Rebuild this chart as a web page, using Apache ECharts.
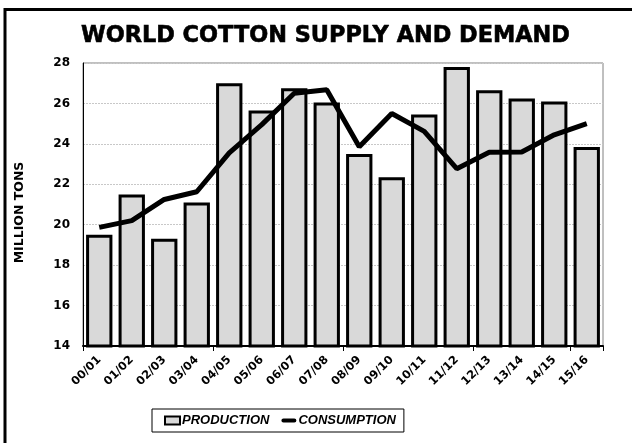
<!DOCTYPE html>
<html>
<head>
<meta charset="utf-8">
<script src="https://cdn.jsdelivr.net/npm/echarts@6/dist/echarts.min.js"></script>
<style>html,body{margin:0;padding:0;background:#fff;}#c{width:632px;height:443px;}</style>
</head>
<body>
<div id="c"></div>
<script>
const categories = ['00/01','01/02','02/03','03/04','04/05','05/06','06/07','07/08','08/09','09/10','10/11','11/12','12/13','13/14','14/15','15/16'];
const production = [19.5, 21.5, 19.3, 21.1, 27.0, 25.65, 26.75, 26.05, 23.5, 22.35, 25.45, 27.8, 26.65, 26.25, 26.1, 23.85];
const consumption = [19.87, 20.2, 21.25, 21.63, 23.55, 24.95, 26.5, 26.68, 23.86, 25.5, 24.62, 22.77, 23.58, 23.6, 24.45, 25.0];
const yTicks = [14, 16, 18, 20, 22, 24, 26, 28];

const chart = echarts.init(document.getElementById('c'), null, {renderer: 'canvas'});
const font = 'Liberation Sans, Arial, sans-serif';
const heavy = 'DejaVu Sans, sans-serif';
chart.setOption({
  animation: false,
  backgroundColor: '#fff',
  textStyle: {fontFamily: font},
  title: {
    text: 'WORLD COTTON SUPPLY AND DEMAND',
    left: 76, top: 20,
    textStyle: {fontFamily: heavy, fontSize: 22.4, fontWeight: 'bold', color: '#000', textBorderColor: '#000', textBorderWidth: 0.6}
  },
  graphic: [{
    type: 'rect', silent: true,
    shape: {x: 5, y: 9.5, width: 900, height: 900},
    style: {fill: 'none', stroke: '#000', lineWidth: 3}
  }],
  grid: {left: 83, right: 29, top: 63, bottom: 97, show: true, borderColor: '#808080', borderWidth: 1, backgroundColor: 'transparent'},
  legend: {
    left: 152, top: 409,
    width: 257, height: 24,
    padding: [5, 8, 5, 12],
    itemGap: 12,
    itemWidth: 15, itemHeight: 8,
    borderColor: '#000', borderWidth: 1,
    textStyle: {fontFamily: font, fontSize: 13, fontWeight: 'bold', fontStyle: 'italic', color: '#000', padding: [0,0,0,-3]},
    data: [
      {name: 'PRODUCTION', icon: 'rect'},
      {name: 'CONSUMPTION', icon: 'path://M0,0M17,8M2,1.5L15,1.5A2.5,2.5,0,0,1,15,6.5L2,6.5A2.5,2.5,0,0,1,2,1.5Z', itemStyle: {color: '#000', borderWidth: 0}}
    ]
  },
  xAxis: {
    type: 'category',
    data: categories,
    boundaryGap: true,
    axisLine: {lineStyle: {color: '#000', width: 2}},
    axisTick: {show: true, interval: 3, length: 5, lineStyle: {color: '#000', width: 1}},
    axisLabel: {rotate: 45, interval: 0, fontFamily: heavy, fontSize: 11.5, fontWeight: 'bold', color: '#000', margin: 12},
    splitLine: {show: false}
  },
  yAxis: {
    type: 'value',
    min: yTicks[0], max: yTicks[yTicks.length - 1], interval: 2,
    name: 'MILLION TONS',
    nameLocation: 'middle',
    nameGap: 57,
    nameTextStyle: {fontFamily: heavy, fontSize: 12.5, fontWeight: 'bold', color: '#000', padding: [0, 0, 0, -16]},
    axisLine: {show: true, lineStyle: {color: '#000', width: 1}},
    axisTick: {show: false},
    axisLabel: {fontFamily: heavy, fontSize: 12, fontWeight: 'bold', color: '#000', margin: 13},
    splitLine: {show: true, lineStyle: {color: '#c8c8c8', type: [2, 1], width: 1}}
  },
  series: [
    {
      name: 'PRODUCTION',
      type: 'bar',
      data: production,
      barCategoryGap: '19%',
      itemStyle: {color: '#d9d9d9', borderColor: '#000', borderWidth: 3}
    },
    {
      name: 'CONSUMPTION',
      type: 'line',
      data: consumption,
      symbol: 'none',
      lineStyle: {color: '#000', width: 5},
      itemStyle: {color: '#000'}
    }
  ]
});
</script>
</body>
</html>
